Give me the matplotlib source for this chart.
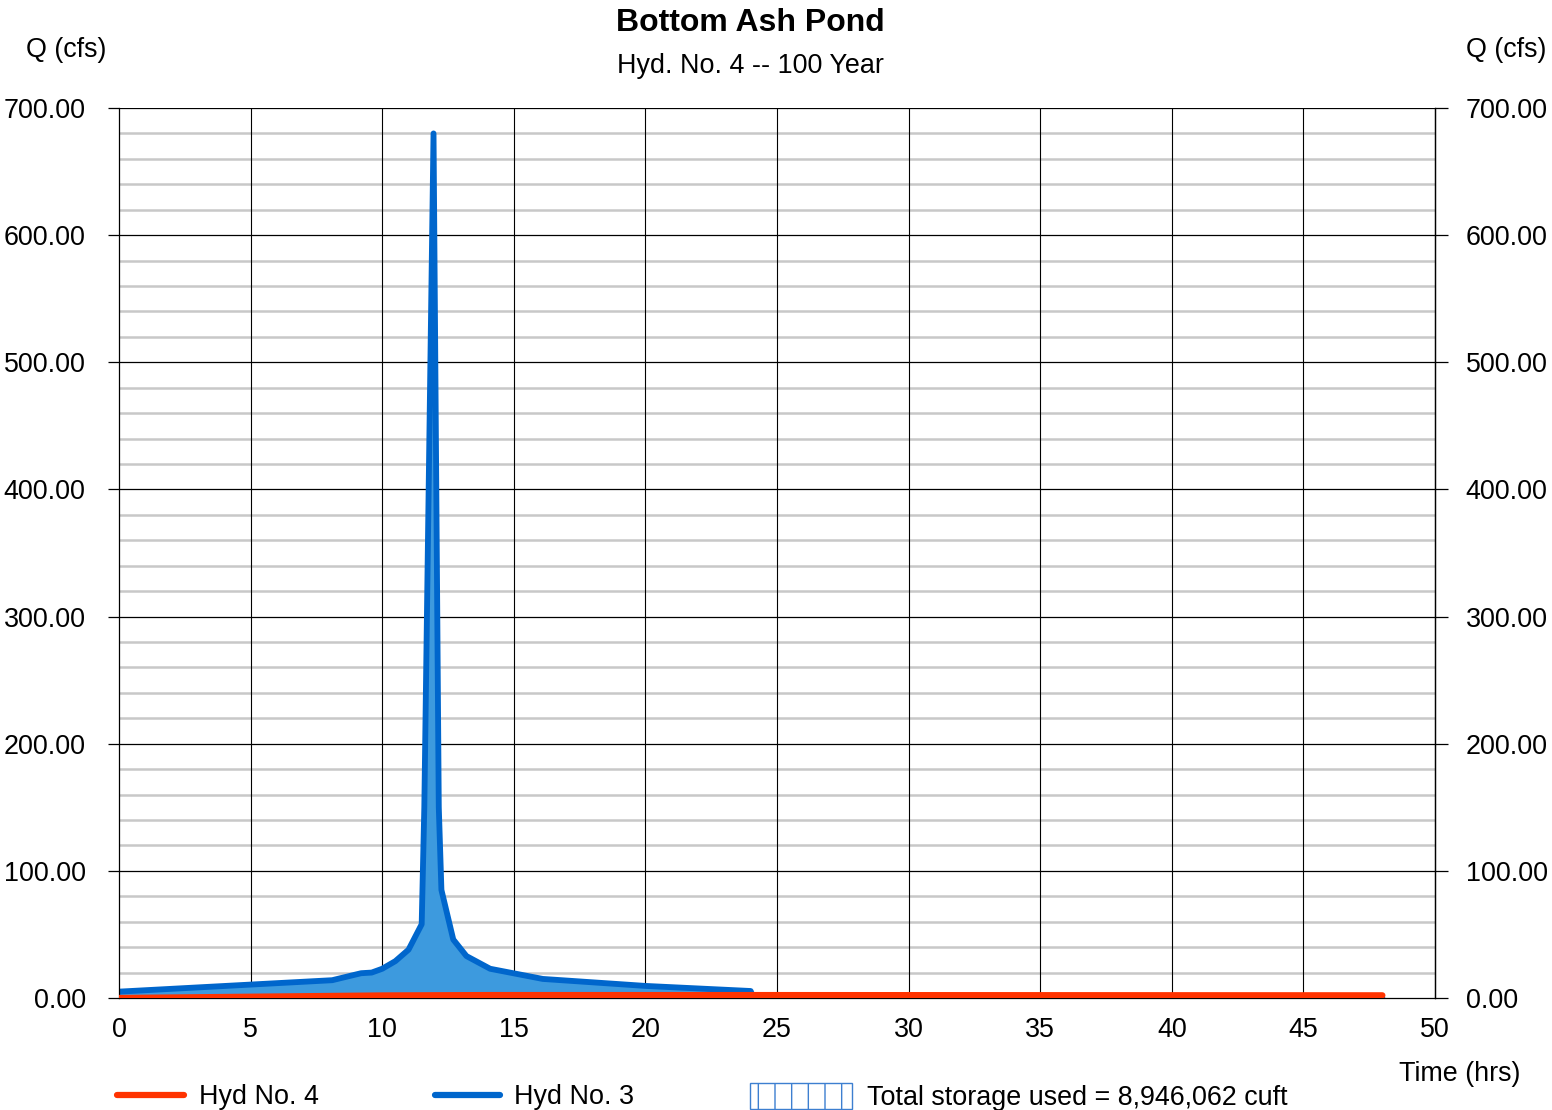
import numpy as np
import matplotlib.pyplot as plt
from matplotlib.lines import Line2D
from matplotlib.patches import Patch

plt.rcParams['font.family'] = ['Liberation Sans', 'DejaVu Sans']

# Hyd No. 3 (inflow hydrograph)
t_in = [0.0, 8.1, 9.2, 9.6, 10.0, 10.5, 11.0, 11.5, 11.6, 11.95, 12.15, 12.25, 12.7, 13.2, 14.1, 16.1, 20.0, 24.0, 24.1, 48.0]
q_in = [5.0, 14.0, 19.5, 20.0, 23.0, 29.0, 38.0, 58.0, 150.0, 680.0, 150.0, 85.0, 46.0, 33.0, 23.0, 15.0, 9.5, 5.5, 0.3, 0.3]

# Hyd No. 4 (outflow hydrograph)
t_out = [0.0, 5.0, 10.0, 14.0, 24.0, 48.0]
q_out = [0.0, 1.0, 2.0, 2.3, 2.3, 2.1]

storage_txt = "Total storage used = 8,946,062 cuft"

c_red = '#ff3300'
c_blue = '#0066cc'
c_fill = '#3d9ade'
fs = 19.4

fig = plt.figure(figsize=(15.52, 11.10), dpi=100)
ax = fig.add_axes([119/1552, 1-998/1110, (1435-119)/1552, (998-108)/1110])

ax.set_xlim(0, 50)
ax.set_ylim(0, 700)

# grid
for y in np.arange(20, 700, 20):
    if y % 100:
        ax.axhline(y, color='#c8c8c8', lw=1.8, zorder=0)
for y in np.arange(100, 701, 100):
    ax.axhline(y, color='black', lw=0.9, zorder=0.5)
for x in np.arange(5, 50, 5):
    ax.axvline(x, color='black', lw=0.8, zorder=0.5)

ax.fill_between(t_in, q_in, 0, color=c_fill, lw=0, zorder=1)
ax.plot(t_in, q_in, color=c_blue, lw=4.2, solid_capstyle='round', solid_joinstyle='round', zorder=2)
ax.plot(t_out, q_out, color=c_red, lw=4.5, solid_capstyle='round', zorder=3)

for s in ['left', 'right', 'bottom']:
    ax.spines[s].set_linewidth(0.9)
ax.spines['top'].set_visible(False)

ax.set_xticks(np.arange(0, 51, 5))
ax.set_yticks(np.arange(0, 701, 100))
ax.yaxis.set_major_formatter(plt.FormatStrFormatter('%.2f'))
ax.tick_params(axis='x', length=0, pad=14, labelsize=fs)
ax.tick_params(axis='y', length=8, width=0.9, pad=16, labelsize=fs, direction='out')

ax2 = ax.twinx()
ax2.set_ylim(0, 700)
ax2.set_yticks(np.arange(0, 701, 100))
ax2.yaxis.set_major_formatter(plt.FormatStrFormatter('%.2f'))
ax2.tick_params(axis='y', length=9, width=0.9, pad=13, labelsize=fs, direction='out')
for s in ['left', 'top', 'bottom']:
    ax2.spines[s].set_visible(False)
ax2.spines['right'].set_linewidth(0.9)

fig.text(750/1552, 1-23/1110, "Bottom Ash Pond", ha='center', va='center', fontsize=23, fontweight='bold')
fig.text(750/1552, 1-66/1110, "Hyd. No. 4 -- 100 Year", ha='center', va='center', fontsize=fs)
fig.text(26/1552, 1-50/1110, "Q (cfs)", ha='left', va='center', fontsize=fs)
fig.text(1546/1552, 1-50/1110, "Q (cfs)", ha='right', va='center', fontsize=fs)
fig.text(1520/1552, 1-1074/1110, "Time (hrs)", ha='right', va='center', fontsize=fs)

# legend, three separate blocks
ly = 1 - 1097/1110
common = dict(frameon=False, fontsize=fs, borderpad=0, borderaxespad=0, loc='center left', handletextpad=0.55)
h1 = Line2D([], [], color=c_red, lw=4.5, solid_capstyle='round')
h2 = Line2D([], [], color=c_blue, lw=4.5, solid_capstyle='round')
h3 = Patch(facecolor='white', edgecolor='#3d7fd0', hatch='|', lw=1.0)
fig.legend([h1], ["Hyd No. 4"], bbox_to_anchor=(117/1552, ly), handlelength=2.5, **common)
fig.legend([h2], ["Hyd No. 3"], bbox_to_anchor=(435/1552, ly), handlelength=2.4, **common)
fig.legend([h3], [storage_txt], bbox_to_anchor=(750/1552, ly), handlelength=3.8, handleheight=1.1, **common)

fig.savefig('out.png', dpi=100)
